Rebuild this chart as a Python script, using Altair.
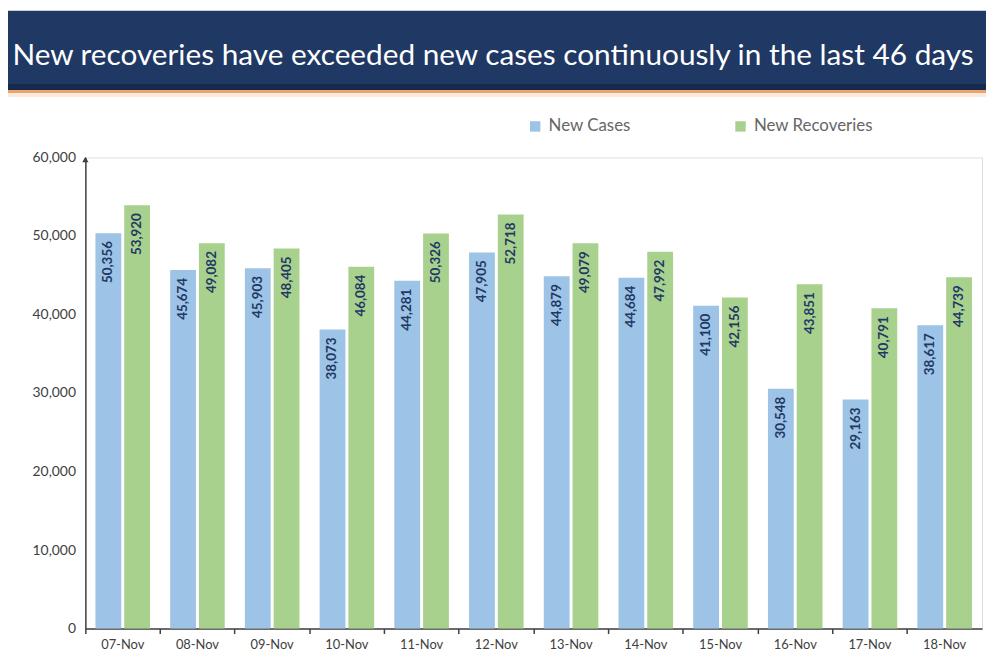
import altair as alt
import pandas as pd

dates = ["07-Nov", "08-Nov", "09-Nov", "10-Nov", "11-Nov", "12-Nov",
         "13-Nov", "14-Nov", "15-Nov", "16-Nov", "17-Nov", "18-Nov"]
new_cases = [50356, 45674, 45903, 38073, 44281, 47905,
             44879, 44684, 41100, 30548, 29163, 38617]
new_recoveries = [53920, 49082, 48405, 46084, 50326, 52718,
                  49079, 47992, 42156, 43851, 40791, 44739]
series_names = ["New Cases", "New Recoveries"]
series_colors = ["#9DC3E6", "#A9D18E"]
y_ticks = [0, 10000, 20000, 30000, 40000, 50000, 60000]
title_text = "New recoveries have exceeded new cases continuously in the last 46 days"

rows = []
for d, c, r in zip(dates, new_cases, new_recoveries):
    rows.append({"date": d, "series": series_names[0], "value": c, "label": f"{c:,}"})
    rows.append({"date": d, "series": series_names[1], "value": r, "label": f"{r:,}"})
df = pd.DataFrame(rows)

W, H = 904, 475
PL, PT, PR, PB = 78, 148, 4, 28
FONT = "Lato"

base = alt.Chart(df).encode(
    x=alt.X("date:N", sort=dates, title=None,
            scale=alt.Scale(paddingInner=0, paddingOuter=0),
            axis=alt.Axis(labelAngle=0, bandPosition=0, tickSize=5, tickColor="#404040",
                          domainColor="#404040", domainWidth=1.5, tickWidth=1.5,
                          labelFont=FONT, labelFontSize=13, labelColor="#404040",
                          labelPadding=5, grid=False)),
    xOffset=alt.XOffset("series:N", sort=series_names,
                        scale=alt.Scale(paddingInner=0.103, paddingOuter=0.35)),
    y=alt.Y("value:Q", title=None,
            scale=alt.Scale(domain=[0, 60000], nice=False),
            axis=alt.Axis(values=y_ticks, format=",.0f", tickSize=0, labelPadding=10,
                          domainColor="#404040", domainWidth=1.5,
                          labelFont=FONT, labelFontSize=14, labelColor="#404040",
                          grid=False)),
)

bars = base.mark_bar().encode(
    color=alt.Color("series:N", sort=series_names,
                    scale=alt.Scale(domain=series_names, range=series_colors),
                    legend=alt.Legend(orient="none", legendX=445, legendY=-40,
                                      direction="horizontal", title=None,
                                      symbolType="square", symbolSize=110,
                                      symbolStrokeWidth=0, labelFont=FONT,
                                      labelFontSize=17, labelColor="#666666",
                                      columnPadding=102, labelOffset=5))
)

labels = base.mark_text(angle=270, align="right", baseline="middle", dx=-8,
                        font=FONT, fontWeight="bold", fontSize=13.5,
                        color="#1F3864").encode(text="label:N")

deco = pd.DataFrame({"k": [0]})
banner = alt.Chart(deco).mark_rect(color="#1F3864").encode(
    x=alt.value(-PL), x2=alt.value(W + PR), y=alt.value(-PT), y2=alt.value(-68))
banner_dark = alt.Chart(deco).mark_rect(color="#17294F").encode(
    x=alt.value(-PL), x2=alt.value(W + PR), y=alt.value(-74), y2=alt.value(-68))
orange = alt.Chart(deco).mark_rect(color="#E9A56E").encode(
    x=alt.value(-PL), x2=alt.value(W + PR), y=alt.value(-68), y2=alt.value(-65))
peach = alt.Chart(deco).mark_rect(color="#FCEBDD").encode(
    x=alt.value(-PL), x2=alt.value(W + PR), y=alt.value(-65), y2=alt.value(-61))
title = alt.Chart(deco).mark_text(color="white", font=FONT, fontSize=30,
                                  align="center", baseline="middle").encode(
    x=alt.value(411), y=alt.value(-102), text=alt.value(title_text))
arrow = alt.Chart(deco).mark_point(shape="triangle-up", filled=True, size=40,
                                   color="#404040", opacity=1).encode(
    x=alt.value(0), y=alt.value(2))

chart = alt.layer(banner, banner_dark, orange, peach, title, bars, labels, arrow).properties(
    width=W, height=H,
    autosize=alt.AutoSizeParams(type="none"),
    padding={"left": PL, "top": PT, "right": PR, "bottom": PB},
).configure_view(stroke=None).configure(background="white")

chart.save("out.html", embed_options={"renderer": "svg", "actions": False})
